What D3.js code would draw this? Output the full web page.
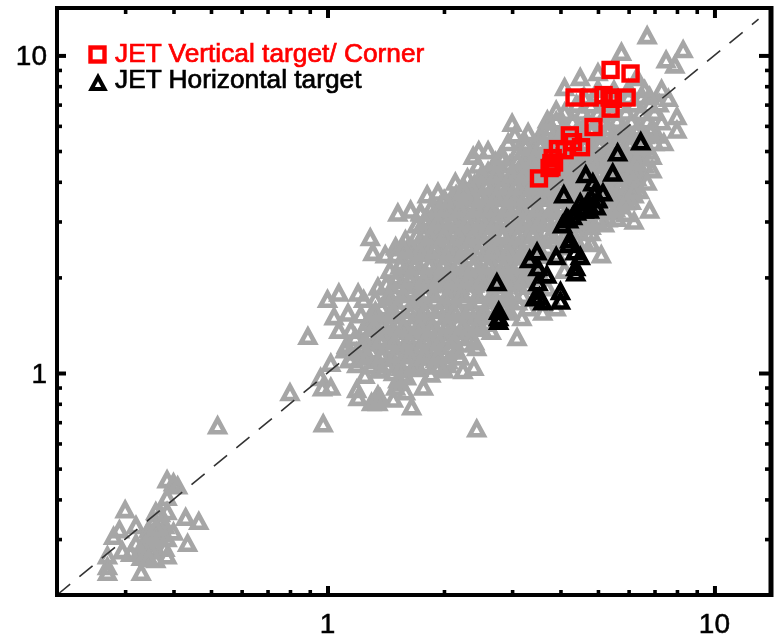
<!DOCTYPE html>
<html><head><meta charset="utf-8">
<script src="https://cdn.jsdelivr.net/npm/d3@7"></script>
<style>html,body{margin:0;background:#fff}svg{display:block;filter:blur(0.5px)}</style>
</head><body><svg id="c" width="779" height="638"></svg>
<script>
const legendLabels=["JET Vertical target/ Corner","JET Horizontal target"];
const majorTicks=[1,10];
const minorTicks=[0.3,0.4,0.5,0.6,0.7,0.8,0.9,2,3,4,5,6,7,8,9];
const lowCluster=[[.30,.37],[.385,.46],[.40,.45],[.41,.44],[.385,.405],[.36,.365],[.385,.365],[.43,.35],[.465,.34],[.29,.32],[.32,.33],[.28,.305],[.345,.32],[.37,.335],[.40,.315],[.435,.29],[.295,.275],[.27,.265],[.27,.245],[.27,.235],[.33,.235],[.36,.258],[.38,.28],[.335,.28],[.325,.27],[.35,.30],[.365,.315],[.385,.30],[.345,.29],[.36,.28],[.33,.262],[.38,.33],[.37,.36],[.34,.30],[.35,.275],[.385,.265],[.31,.27],[.355,.34],[.36,.30],[.34,.27],[.375,.31],[.32,.29],[.35,.31],[.36,.325],[.345,.26]];
const scattered=[[.52,.68],[.89,1.30],[.80,.865],[.975,.69],[2.43,.665],[1.02,1.07],[.96,.965],[.97,.895],[1.02,.90],[1.19,.885],[1.2,.835],[1.35,.85],[1.3,.805],[1.35,.805],[1.48,.825],[1.65,.78],[1.59,.87],[1.77,.90],[1.54,.93],[1.56,.985],[1.37,1.02],[1.19,1.06],[1.15,1.1],[1.11,1.18],[1.78,1.05],[2.04,1.06],[2.24,1.015],[2.39,1.04],[2.43,1.2],[2.48,1.39],[3.09,1.29],[3.18,1.49],[1.0,1.7],[1.07,1.78],[1.2,1.78],[1.24,1.7],[1.04,1.5],[1.07,1.36],[1.13,1.54],[1.29,1.5],[1.35,1.86],[1.33,.82],[1.37,.83],[1.5,.9],[1.52,.95],[3.9,1.6],[3.6,1.55],[3.3,1.6],[3.2,1.75],[3.4,2.0],[3.7,1.85],[4.1,2.1],[4.4,2.6],[4.8,2.55]];
const upperEdge=[[6.7,11.5],[5.75,10.2],[8.3,10.4],[7.5,9.65],[7.9,9.3],[4.5,8.5],[4.1,7.9],[5.0,8.8],[6.3,8.5],[7.3,7.8],[7.6,7.3],[6.8,7.4],[3.9,6.7],[3.7,6.25],[3.0,6.1],[3.3,5.7],[8.0,6.4],[8.0,5.8],[7.4,5.3],[6.9,4.8],[2.93,5.3],[2.46,5.0],[2.8,4.8],[2.38,4.8],[6.8,3.25],[6.2,3.0],[5.9,3.45],[6.2,3.75],[6.9,4.35],[6.7,3.98],[5.1,2.35],[1.29,2.66],[1.31,2.39],[1.5,2.49],[1.57,2.47],[1.41,2.35],[1.52,3.18],[1.64,3.25],[1.81,3.63],[1.93,3.7],[2.14,3.98],[2.24,3.76],[2.01,3.5],[1.74,3.18]];
const denseBand=[
[1.25,.98],[1.36,1.02],[1.48,1.0],[1.6,.97],[1.72,1.03],[1.85,.99],[2.0,1.02],
[1.14,1.1],[1.24,1.12],[1.35,1.09],[1.47,1.11],[1.6,1.08],[1.75,1.12],[1.9,1.1],[2.05,1.09],[2.2,1.12],
[1.12,1.22],[1.22,1.2],[1.33,1.24],[1.45,1.21],[1.59,1.23],[1.74,1.2],[1.9,1.24],[2.07,1.21],[2.27,1.23],[2.4,1.25],
[1.15,1.36],[1.25,1.38],[1.36,1.34],[1.48,1.37],[1.62,1.35],[1.76,1.38],[1.92,1.34],[2.1,1.37],[2.3,1.35],[2.5,1.38],[2.65,1.35],
[1.22,1.52],[1.33,1.5],[1.45,1.54],[1.59,1.51],[1.74,1.53],[1.9,1.5],[2.07,1.54],[2.27,1.52],[2.48,1.5],[2.71,1.53],[2.96,1.55],
[1.33,1.7],[1.45,1.72],[1.59,1.68],[1.74,1.71],[1.9,1.69],[2.07,1.72],[2.27,1.7],[2.48,1.68],[2.71,1.72],[2.96,1.7],[3.1,1.67],
[1.42,1.9],[1.55,1.88],[1.7,1.92],[1.85,1.89],[2.0,1.91],[2.2,1.87],[2.4,1.9],[2.6,1.92],[2.85,1.88],[3.1,1.91],[3.3,1.87],
[1.45,2.1],[1.59,2.12],[1.74,2.08],[1.9,2.11],[2.07,2.13],[2.27,2.09],[2.48,2.12],[2.71,2.1],[2.96,2.08],[3.24,2.12],[3.5,2.09],
[1.5,2.35],[1.65,2.33],[1.8,2.37],[1.97,2.34],[2.15,2.36],[2.35,2.32],[2.55,2.37],[2.8,2.35],[3.05,2.33],[3.35,2.36],[3.6,2.34],[3.9,2.37],
[1.59,2.62],[1.74,2.6],[1.9,2.64],[2.07,2.61],[2.27,2.63],[2.48,2.59],[2.71,2.62],[2.96,2.65],[3.24,2.6],[3.54,2.63],[3.87,2.61],[4.23,2.64],[4.6,2.6],
[1.7,2.92],[1.85,2.9],[2.0,2.95],[2.2,2.91],[2.4,2.93],[2.6,2.89],[2.85,2.94],[3.1,2.92],[3.4,2.9],[3.7,2.95],[4.05,2.91],[4.4,2.93],[4.8,2.89],[5.2,2.94],
[1.74,3.2],[1.9,3.22],[2.07,3.18],[2.27,3.21],[2.48,3.24],[2.71,3.19],[2.96,3.22],[3.24,3.2],[3.54,3.17],[3.87,3.23],[4.23,3.2],[4.62,3.18],[5.05,3.22],[5.52,3.2],[5.9,3.17],
[2.0,3.5],[2.2,3.47],[2.4,3.52],[2.6,3.49],[2.85,3.53],[3.1,3.48],[3.4,3.5],[3.7,3.54],[4.05,3.49],[4.4,3.51],[4.8,3.47],[5.3,3.52],[5.7,3.5],[6.1,3.46],
[2.27,3.76],[2.48,3.79],[2.71,3.74],[2.96,3.77],[3.24,3.8],[3.54,3.75],[3.87,3.78],[4.23,3.74],[4.62,3.77],[5.05,3.8],[5.52,3.75],[6.0,3.78],[6.4,3.74],
[2.3,4.1],[2.55,4.13],[2.8,4.08],[3.05,4.11],[3.35,4.14],[3.7,4.09],[4.0,4.12],[4.4,4.07],[4.8,4.1],[5.3,4.13],[5.8,4.08],[6.3,4.11],
[2.45,4.5],[2.7,4.47],[2.96,4.52],[3.24,4.48],[3.54,4.51],[3.87,4.46],[4.23,4.5],[4.62,4.53],[5.05,4.48],[5.52,4.51],[6.03,4.47],[6.6,4.5],
[2.6,5.0],[3.1,4.97],[3.4,5.02],[3.7,4.98],[4.05,5.03],[4.4,4.99],[4.8,5.01],[5.3,4.96],[5.8,5.0],[6.3,5.03],[6.8,4.98],
[3.05,5.6],[3.54,5.57],[3.87,5.62],[4.23,5.58],[4.62,5.61],[5.05,5.56],[5.52,5.6],[6.03,5.63],[6.6,5.58],[7.1,5.6],
[3.9,6.2],[4.3,6.17],[4.7,6.23],[5.1,6.19],[5.6,6.22],[6.1,6.18],[6.7,6.2],[7.3,6.16],
[4.4,7.0],[4.8,6.96],[5.2,7.03],[5.7,6.98],[6.2,7.01],[6.8,6.97],[7.2,7.02],
[5.0,7.8],[5.5,7.76],[6.0,7.83],[6.6,7.78]];
const denseFill=[
[1.3,1.05],[1.42,1.06],[1.55,1.04],[1.67,1.05],[1.8,1.06],[1.95,1.05],
[1.19,1.16],[1.3,1.17],[1.4,1.15],[1.53,1.16],[1.67,1.17],[1.82,1.15],[1.98,1.16],[2.15,1.17],
[1.18,1.29],[1.28,1.3],[1.4,1.28],[1.53,1.29],[1.67,1.3],[1.83,1.28],[2.0,1.29],[2.18,1.3],[2.35,1.29],
[1.27,1.44],[1.38,1.45],[1.52,1.43],[1.66,1.44],[1.82,1.45],[1.98,1.43],[2.18,1.44],[2.38,1.45],[2.58,1.43],
[1.38,1.6],[1.52,1.61],[1.66,1.59],[1.82,1.6],[1.98,1.61],[2.17,1.59],[2.37,1.6],[2.6,1.61],[2.85,1.59],
[1.48,1.8],[1.62,1.81],[1.78,1.79],[1.95,1.8],[2.13,1.81],[2.33,1.79],[2.55,1.8],[2.8,1.81],[3.0,1.79],
[1.52,2.0],[1.66,2.01],[1.82,1.99],[1.98,2.0],[2.17,2.01],[2.37,1.99],[2.6,2.0],[2.85,2.01],[3.1,1.99],[3.3,2.0],
[1.55,2.22],[1.7,2.23],[1.85,2.21],[2.0,2.22],[2.2,2.23],[2.4,2.21],[2.65,2.22],[2.9,2.23],[3.15,2.21],[3.4,2.22],
[1.65,2.48],[1.8,2.49],[1.97,2.47],[2.15,2.48],[2.35,2.49],[2.6,2.47],[2.85,2.48],[3.1,2.49],[3.4,2.47],[3.7,2.48],[4.0,2.49],
[1.78,2.77],[1.95,2.78],[2.12,2.76],[2.32,2.77],[2.55,2.78],[2.8,2.76],[3.05,2.77],[3.35,2.78],[3.65,2.76],[4.0,2.77],[4.4,2.78],[4.8,2.76],
[1.82,3.05],[2.0,3.06],[2.2,3.04],[2.4,3.05],[2.6,3.06],[2.85,3.04],[3.1,3.05],[3.4,3.06],[3.7,3.04],[4.05,3.05],[4.4,3.06],[4.8,3.04],[5.3,3.05],[5.6,3.06],
[1.95,3.35],[2.13,3.36],[2.33,3.34],[2.55,3.35],[2.8,3.36],[3.05,3.34],[3.35,3.35],[3.65,3.36],[4.0,3.34],[4.4,3.35],[4.8,3.36],[5.3,3.34],[5.7,3.35],
[2.15,3.63],[2.35,3.64],[2.6,3.62],[2.85,3.63],[3.1,3.64],[3.4,3.62],[3.7,3.63],[4.05,3.64],[4.4,3.62],[4.8,3.63],[5.3,3.64],[5.8,3.62],[6.2,3.63],
[2.4,3.93],[2.6,3.94],[2.85,3.92],[3.1,3.93],[3.4,3.94],[3.7,3.92],[4.05,3.93],[4.4,3.94],[4.8,3.92],[5.3,3.93],[5.8,3.94],[6.2,3.92],
[2.6,4.3],[2.85,4.31],[3.1,4.29],[3.4,4.3],[3.7,4.31],[4.05,4.29],[4.4,4.3],[4.8,4.31],[5.3,4.29],[5.8,4.3],[6.3,4.31],
[2.85,4.75],[3.25,4.76],[3.55,4.74],[3.9,4.75],[4.25,4.76],[4.6,4.74],[5.05,4.75],[5.5,4.76],[6.0,4.74],[6.5,4.75],
[3.25,5.3],[3.55,5.31],[3.9,5.29],[4.25,5.3],[4.6,5.31],[5.05,5.29],[5.5,5.3],[6.0,5.31],[6.5,5.29],[7.0,5.3],
[3.7,5.9],[4.1,5.91],[4.45,5.89],[4.85,5.9],[5.3,5.91],[5.8,5.89],[6.35,5.9],[6.9,5.91],
[4.1,6.6],[4.55,6.61],[5.0,6.59],[5.45,6.6],[5.9,6.61],[6.45,6.59],[7.0,6.6],
[4.6,7.4],[5.1,7.41],[5.5,7.39],[6.0,7.4],[6.5,7.41]];
const denseCore=[
[1.27,1.13],[1.38,1.13],[1.5,1.14],[1.63,1.13],[1.78,1.14],[1.93,1.13],
[1.25,1.26],[1.37,1.26],[1.49,1.25],[1.63,1.26],[1.78,1.26],[1.95,1.25],[2.12,1.26],
[1.32,1.4],[1.44,1.41],[1.57,1.4],[1.72,1.41],[1.87,1.4],[2.04,1.41],[2.24,1.4],[2.44,1.41],
[1.33,1.56],[1.48,1.56],[1.62,1.57],[1.78,1.56],[1.94,1.57],[2.12,1.56],[2.32,1.57],[2.54,1.56],[2.78,1.57],
[1.44,1.75],[1.57,1.76],[1.72,1.75],[1.88,1.76],[2.04,1.75],[2.22,1.76],[2.44,1.75],[2.66,1.76],[2.9,1.75],
[1.5,1.95],[1.63,1.96],[1.77,1.95],[1.93,1.96],[2.1,1.95],[2.3,1.96],[2.5,1.95],[2.74,1.96],[2.98,1.95],[3.2,1.96],
[1.54,2.17],[1.68,2.16],[1.83,2.17],[1.99,2.16],[2.17,2.17],[2.38,2.16],[2.6,2.17],[2.84,2.16],[3.1,2.17],[3.35,2.16],
[1.6,2.42],[1.73,2.41],[1.89,2.42],[2.06,2.41],[2.25,2.42],[2.46,2.41],[2.68,2.42],[2.93,2.41],[3.2,2.42],[3.5,2.41],
[1.7,2.7],[1.84,2.69],[2.0,2.7],[2.18,2.69],[2.38,2.7],[2.6,2.69],[2.84,2.7],[3.1,2.69],[3.4,2.7],[3.75,2.69],[4.1,2.7],
[1.78,3.0],[1.93,2.99],[2.1,3.0],[2.3,2.99],[2.5,3.0],[2.72,2.99],[2.97,3.0],[3.25,2.99],[3.55,3.0],[3.87,2.99],[4.22,3.0],[4.6,2.99],[5.0,3.0],
[1.85,3.28],[2.02,3.29],[2.2,3.28],[2.42,3.29],[2.64,3.28],[2.9,3.29],[3.18,3.28],[3.48,3.29],[3.8,3.28],[4.2,3.29],[4.6,3.28],[5.1,3.29],[5.55,3.28],
[2.1,3.57],[2.28,3.58],[2.5,3.57],[2.72,3.58],[2.98,3.57],[3.25,3.58],[3.55,3.57],[3.87,3.58],[4.22,3.57],[4.6,3.58],[5.05,3.57],[5.55,3.58],[6.0,3.57],
[2.35,3.85],[2.58,3.86],[2.82,3.85],[3.08,3.86],[3.38,3.85],[3.68,3.86],[4.02,3.85],[4.42,3.86],[4.85,3.85],[5.3,3.86],[5.75,3.85],
[2.5,4.2],[2.72,4.21],[2.98,4.2],[3.22,4.21],[3.52,4.2],[3.87,4.21],[4.22,4.2],[4.6,4.21],[5.05,4.2],[5.55,4.21],[6.05,4.2],
[2.72,4.62],[3.1,4.63],[3.38,4.62],[3.7,4.63],[4.05,4.62],[4.42,4.63],[4.85,4.62],[5.3,4.63],[5.75,4.62],[6.3,4.63],
[3.25,5.15],[3.55,5.16],[3.9,5.15],[4.22,5.16],[4.62,5.15],[5.05,5.16],[5.55,5.15],[6.05,5.16],[6.55,5.15],
[3.75,5.72],[4.05,5.73],[4.42,5.72],[4.82,5.73],[5.3,5.72],[5.78,5.73],[6.3,5.72],[6.85,5.73]];
const blackPoints=[[4.65,4.2],[5.46,4.25],[5.62,4.92],[6.45,5.33],[4.08,3.63],[4.85,3.96],[5.15,3.68],[4.9,3.68],[4.95,3.33],[4.7,3.43],[4.5,3.43],[4.4,3.2],[4.6,3.25],[4.15,3.07],[4.05,2.92],[4.2,3.03],[4.23,2.62],[4.2,2.53],[4.36,2.4],[4.5,2.32],[4.38,2.14],[4.38,2.06],[3.9,2.32],[3.48,2.4],[3.33,2.27],[3.5,2.14],[3.69,2.03],[3.5,1.92],[3.44,1.72],[3.6,1.67],[3.53,1.73],[4.0,1.8],[4.0,1.68],[2.74,1.92],[2.77,1.56],[2.77,1.49],[2.77,1.45],[4.8,3.55],[5.0,3.5],[4.55,3.3],[4.3,3.1],[4.75,3.25]];
const redPoints=[[5.39,9.0],[6.07,8.77],[4.35,7.37],[4.76,7.37],[5.17,7.5],[5.36,7.37],[5.46,7.3],[5.93,7.37],[5.39,6.8],[4.87,5.95],[4.23,5.6],[4.31,5.33],[4.52,5.14],[3.94,5.07],[4.1,5.03],[3.82,4.75],[3.79,4.58],[3.75,4.42],[3.79,4.45],[3.85,4.6],[3.52,4.1]];
const domain=[0.2,14];
const grayPoints=[...lowCluster,...scattered,...denseBand,...denseFill,...denseCore,...upperEdge];

const svg=d3.select("#c");
const L=57,R=771,T=9,B=595;
const x=d3.scaleLog().domain(domain).range([L,R]);
const y=d3.scaleLog().domain(domain).range([B,T]);
const tri="M-7,6L0,-7L7,6Z";
const g=svg.append("g");
function tris(data,col,sw){
  g.append("g").selectAll("path").data(data).join("path")
   .attr("d",tri).attr("transform",d=>`translate(${x(d[0])},${y(d[1])})`)
   .attr("fill","none").attr("stroke",col).attr("stroke-width",sw).attr("stroke-linejoin","miter");
}
tris(grayPoints,"#a6a6a6",4.6);
g.append("line").attr("x1",x(0.2)).attr("y1",y(0.2)).attr("x2",x(13)).attr("y2",y(13))
 .attr("stroke","#333").attr("stroke-width",1.6).attr("stroke-dasharray","17,12");
tris(blackPoints,"#000",4.6);
g.append("g").selectAll("rect").data(redPoints).join("rect")
 .attr("x",d=>x(d[0])-7).attr("y",d=>y(d[1])-7).attr("width",14).attr("height",14)
 .attr("fill","none").attr("stroke","#f00").attr("stroke-width",4.4);

function ax(gen,scale,tx,ty,major,minor){
  const a=svg.append("g").attr("transform",`translate(${tx},${ty})`);
  const m=gen(scale).tickValues(minorTicks).tickSize(minor).tickFormat("");
  a.append("g").call(m).call(s=>s.select(".domain").remove()).selectAll("line").attr("stroke-width",3.6).attr("stroke","#000");
  const M=gen(scale).tickValues(majorTicks).tickSize(major).tickFormat("");
  a.append("g").call(M).call(s=>s.select(".domain").remove()).selectAll("line").attr("stroke-width",4).attr("stroke","#000");
}
ax(d3.axisTop,x,0,B,9,5);
ax(d3.axisBottom,x,0,T,9,5);
ax(d3.axisRight,y,L,0,9,5);
ax(d3.axisLeft,y,R,0,12,6);
svg.append("rect").attr("x",L).attr("y",T-1).attr("width",R-L).attr("height",B-T+1).attr("fill","none").attr("stroke","#000").attr("stroke-width",4);
svg.append("line").attr("x1",R).attr("x2",R).attr("y1",T-3).attr("y2",B+2).attr("stroke","#000").attr("stroke-width",5);

const font="'Liberation Sans',Arial,sans-serif";
function label(px,py,t,anchor){svg.append("text").attr("x",px).attr("y",py).attr("text-anchor",anchor)
 .attr("font-family",font).attr("font-size",28).attr("fill","#000").attr("stroke","#000").attr("stroke-width",.5).text(t);}
majorTicks.forEach(v=>{
  label(x(v),633,String(v),"middle");
  label(47,y(v)+10,String(v),"end");
});
svg.append("rect").attr("x",90.5).attr("y",47.5).attr("width",14).attr("height",14).attr("fill","none").attr("stroke","#f00").attr("stroke-width",4.4);
svg.append("path").attr("d","M-6.5,6L0,-6L6.5,6Z").attr("transform","translate(98,83)").attr("fill","none").attr("stroke","#000").attr("stroke-width",4);
[["#f00",62],["#000",88]].forEach((c,i)=>{
 svg.append("text").attr("x",115).attr("y",c[1]).attr("font-family",font).attr("font-size",26.3).attr("fill",c[0]).attr("stroke",c[0]).attr("stroke-width",.7).text(legendLabels[i]);
});
</script></body></html>
